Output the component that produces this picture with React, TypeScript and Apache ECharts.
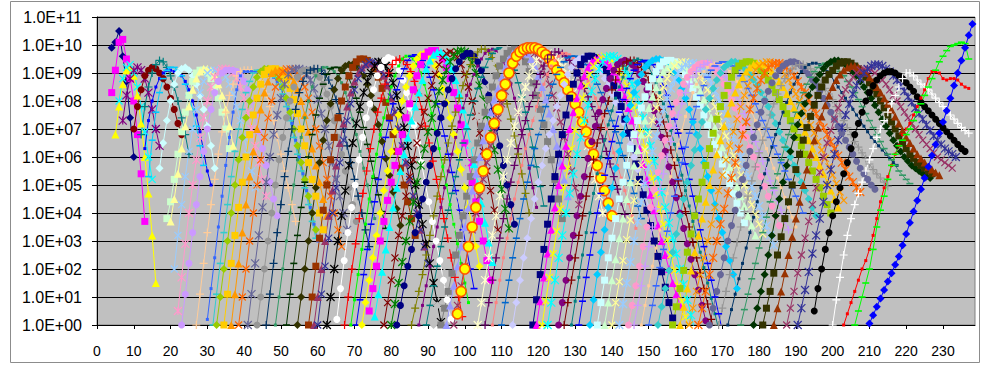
import React, { useEffect, useRef } from "react";
import * as echarts from "echarts";

// x of the first point of every series (points follow at a step of 1)
const SERIES_START_X: number[] = [
  4, 4, 5, 6, 7, 10, 12, 13, 14, 17,
  19, 20, 21, 22, 23, 27, 30, 31.5, 32.5, 34.5,
  36.5, 38.5, 41, 43.5, 46, 48.5, 51.5, 54.5, 57.5, 59,
  60, 62.5, 65.2, 67.3, 69, 70.5, 72, 74, 75.5, 78,
  80, 81.5, 85.5, 87.5, 89.5, 91.5, 93.5, 95, 97, 103.5,
  98, 105.5, 107.5, 110, 113, 118.5, 119.5, 121, 122.5, 125.5,
  127, 129, 131, 134, 136, 138, 140, 142, 144.5, 146,
  148, 150, 152.5, 156.5, 158.5, 161, 163.5, 166.5, 169, 171.5,
  175, 178.5, 181, 184, 187.5, 190.5, 195, 200, 203, 206,
  210,
];

// log10 of every series value
const SERIES_LOG10_Y: number[][] = [
  [9.9, 10.1, 10.5, 9.6, 8.7, 7.4, 6.0],
  [8.3, 9.1, 10.1, 10.2, 9.5, 8.8, 8.0, 6.8, 5.4, 3.7],
  [6.8, 7.8, 8.6, 9.1, 9.2, 8.9, 8.2, 7.2, 6.0, 4.7, 3.2, 1.5],
  [8.0, 8.8, 9.2, 9.3, 9.0, 8.5, 7.8, 6.9, 6.0, 5.2],
  [7.3, 8.2, 8.8, 9.1, 9.2, 9.1, 8.8, 8.3, 7.7, 7.0, 6.4],
  [7.0, 7.8, 8.4, 8.9, 9.1, 9.2, 9.15, 9.0, 8.8, 8.5, 8.1, 7.7, 7.2, 6.8],
  [6.8, 7.8, 8.5, 9.0, 9.3, 9.45, 9.4, 9.2, 8.9, 8.5, 8.0, 7.4, 6.8, 6.1],
  [6.3, 7.3, 8.0, 8.5, 8.8, 9.0, 9.1, 9.1, 9.05, 9.0, 8.9, 8.7, 8.4, 8.0, 7.5, 6.9, 6.2, 5.5, 5.0],
  [5.3, 6.6, 7.6, 8.3, 8.8, 9.1, 9.2, 9.2, 9.1, 8.9, 8.6, 8.2, 7.7, 7.1, 6.4, 5.7],
  [5.6, 6.5, 7.3, 8.0, 8.6, 9.0, 9.15, 9.2, 9.1, 8.9, 8.6, 8.2, 7.7, 7.1, 6.4, 5.6],
  [3.8, 4.4, 5.2, 6.1, 6.9, 7.6, 8.2, 8.7, 9.0, 9.1, 9.1, 9.0, 8.8, 8.5, 8.1, 7.6, 7.0, 6.3],
  [3.7, 4.5, 5.4, 6.3, 7.1, 7.8, 8.4, 8.8, 9.05, 9.15, 9.15, 9.1, 8.9, 8.6, 8.2, 7.7, 7.1, 6.4],
  [2.0, 3.2, 4.3, 5.3, 6.2, 7.0, 7.7, 8.3, 8.7, 9.0, 9.1, 9.1, 9.05, 9.0, 8.85, 8.6, 8.25, 7.8, 7.3, 6.7, 6.1, 5.5, 4.9],
  [0.5, 1.7, 2.9, 4.0, 5.0, 5.9, 6.7, 7.4, 8.0, 8.5, 8.85, 9.05, 9.15, 9.15, 9.1, 9.0, 8.8, 8.5, 8.1, 7.6, 7.0, 6.4, 5.8, 5.2, 4.6],
  [0.0, 1.1, 2.2, 3.3, 4.3, 5.3, 6.2, 7.0, 7.7, 8.3, 8.7, 9.0, 9.1, 9.1, 9.1, 9.05, 8.9, 8.7, 8.4, 8.0, 7.5, 6.9, 6.3, 5.7, 5.1, 4.5, 3.9],
  [0.0, 1.1, 2.2, 3.3, 4.3, 5.2, 6.1, 6.9, 7.6, 8.2, 8.6, 8.9, 9.05, 9.1, 9.1, 9.1, 9.0, 8.85, 8.6, 8.25, 7.8, 7.3, 6.7, 6.1, 5.5, 4.9, 4.3, 3.7],
  [0.2, 1.3, 2.4, 3.5, 4.6, 5.7, 6.7, 7.6, 8.4, 8.9, 9.05, 9.05, 9.05, 9.05, 9.05, 9.05, 9.0, 8.95, 8.85, 8.7, 8.45, 8.1, 7.7, 7.2, 6.6, 6.0, 5.4, 4.8, 4.2, 3.6, 3.0],
  [0.0, 1.1, 2.2, 3.3, 4.3, 5.3, 6.2, 7.0, 7.7, 8.3, 8.7, 9.0, 9.1, 9.1, 9.1, 9.05, 9.0, 8.85, 8.6, 8.25, 7.8, 7.3, 6.7, 6.1, 5.5, 4.9, 4.3, 3.7, 3.1],
  [0.0, 1.0, 2.0, 3.0, 4.0, 5.0, 5.9, 6.7, 7.4, 8.0, 8.5, 8.85, 9.05, 9.15, 9.15, 9.1, 9.0, 8.8, 8.5, 8.1, 7.6, 7.0, 6.4, 5.8, 5.2, 4.6, 4.0, 3.4],
  [0.0, 1.1, 2.2, 3.2, 4.2, 5.1, 6.0, 6.8, 7.5, 8.1, 8.6, 8.95, 9.1, 9.15, 9.15, 9.1, 8.95, 8.75, 8.45, 8.05, 7.55, 7.0, 6.4, 5.8, 5.2, 4.6, 4.0, 3.4],
  [0.0, 1.1, 2.2, 3.3, 4.3, 5.3, 6.2, 7.0, 7.7, 8.3, 8.7, 9.0, 9.1, 9.1, 9.1, 9.05, 8.9, 8.7, 8.4, 8.0, 7.5, 6.9, 6.3, 5.7, 5.1, 4.5, 3.9],
  [0.0, 1.0, 2.0, 3.0, 4.0, 5.0, 5.9, 6.7, 7.4, 8.0, 8.5, 8.85, 9.05, 9.15, 9.15, 9.1, 9.0, 8.8, 8.5, 8.1, 7.6, 7.0, 6.4, 5.8, 5.2, 4.6, 4.0, 3.4, 2.8],
  [0.0, 1.1, 2.2, 3.2, 4.2, 5.1, 6.0, 6.8, 7.5, 8.1, 8.6, 8.95, 9.1, 9.15, 9.15, 9.1, 8.95, 8.75, 8.45, 8.05, 7.55, 7.0, 6.4, 5.8, 5.2, 4.6, 4.0, 3.4],
  [0.0, 1.0, 2.0, 3.0, 4.0, 5.0, 5.9, 6.7, 7.4, 8.0, 8.5, 8.85, 9.05, 9.1, 9.1, 9.1, 9.0, 8.85, 8.6, 8.25, 7.8, 7.3, 6.7, 6.1, 5.5, 4.9, 4.3, 3.7],
  [0.0, 1.1, 2.2, 3.3, 4.3, 5.3, 6.2, 7.0, 7.7, 8.3, 8.7, 9.0, 9.1, 9.15, 9.15, 9.1, 8.95, 8.75, 8.45, 8.05, 7.55, 7.0, 6.4, 5.8, 5.2, 4.6, 4.0, 3.4, 2.8],
  [0.0, 1.0, 2.0, 3.0, 4.0, 5.0, 5.9, 6.7, 7.4, 8.0, 8.5, 8.9, 9.1, 9.2, 9.2, 9.15, 9.05, 8.9, 8.65, 8.3, 7.85, 7.35, 6.8, 6.2, 5.6, 5.0, 4.4, 3.8],
  [0.0, 1.1, 2.2, 3.2, 4.2, 5.1, 6.0, 6.8, 7.5, 8.1, 8.6, 8.95, 9.15, 9.2, 9.2, 9.15, 9.0, 8.8, 8.5, 8.1, 7.6, 7.05, 6.45, 5.85, 5.25, 4.65, 4.05, 3.45],
  [0.0, 1.0, 2.0, 3.0, 4.0, 4.9, 5.8, 6.6, 7.3, 7.9, 8.4, 8.8, 9.1, 9.25, 9.3, 9.3, 9.25, 9.1, 8.9, 8.6, 8.2, 7.7, 7.15, 6.55, 5.95, 5.35, 4.75, 4.15, 3.55],
  [0.0, 1.0, 2.1, 3.1, 4.1, 5.0, 5.9, 6.7, 7.4, 8.0, 8.5, 8.9, 9.2, 9.4, 9.5, 9.5, 9.45, 9.35, 9.15, 8.85, 8.45, 7.95, 7.4, 6.8, 6.2, 5.6, 5.0, 4.4, 3.8, 3.2],
  [0.0, 1.0, 2.0, 3.0, 3.9, 4.8, 5.7, 6.5, 7.2, 7.8, 8.3, 8.7, 9.0, 9.2, 9.3, 9.35, 9.35, 9.3, 9.15, 8.9, 8.55, 8.1, 7.6, 7.0, 6.4, 5.8, 5.2, 4.6, 4.0, 3.4, 2.8],
  [0.0, 1.1, 2.1, 3.1, 4.0, 4.9, 5.8, 6.6, 7.3, 7.9, 8.4, 8.8, 9.1, 9.3, 9.4, 9.4, 9.35, 9.2, 8.95, 8.6, 8.15, 7.6, 7.0, 6.4, 5.8, 5.2, 4.6, 4.0, 3.4, 2.8, 2.2],
  [0.0, 1.0, 2.0, 3.0, 3.9, 4.8, 5.7, 6.5, 7.2, 7.8, 8.3, 8.7, 9.0, 9.25, 9.4, 9.4, 9.25, 9.0, 8.65, 8.2, 7.65, 7.05, 6.4, 5.7, 5.0, 4.3, 3.6, 2.9, 2.2, 1.5, 0.8, 0.1],
  [0.2, 1.3, 2.3, 3.3, 4.2, 5.0, 5.9, 6.7, 7.4, 7.9, 8.4, 8.9, 9.2, 9.45, 9.55, 9.5, 9.35, 9.1, 8.75, 8.3, 7.75, 7.15, 6.5, 5.8, 5.1, 4.4, 3.7, 3.0, 2.3, 1.6, 0.9, 0.2],
  [0.0, 1.0, 2.0, 2.9, 3.8, 4.7, 5.5, 6.3, 7.0, 7.6, 8.1, 8.6, 9.0, 9.3, 9.45, 9.5, 9.45, 9.3, 9.05, 8.7, 8.25, 7.7, 7.1, 6.5, 5.85, 5.2, 4.5, 3.8, 3.1, 2.4, 1.7, 1.0, 0.3],
  [0.0, 0.9, 1.8, 2.7, 3.6, 4.5, 5.3, 6.1, 6.8, 7.4, 8.0, 8.5, 8.9, 9.25, 9.5, 9.6, 9.6, 9.5, 9.3, 9.0, 8.6, 8.1, 7.55, 6.95, 6.3, 5.65, 5.0, 4.3, 3.6, 2.9, 2.2, 1.5, 0.8],
  [0.0, 0.9, 1.8, 2.7, 3.6, 4.4, 5.2, 6.0, 6.7, 7.3, 7.9, 8.4, 8.8, 9.15, 9.45, 9.6, 9.65, 9.6, 9.45, 9.2, 8.85, 8.4, 7.9, 7.35, 6.75, 6.1, 5.45, 4.8, 4.1, 3.4, 2.7, 2.0, 1.3],
  [0.0, 0.8, 1.6, 2.4, 3.2, 4.0, 4.8, 5.5, 6.2, 6.9, 7.5, 8.0, 8.5, 8.9, 9.25, 9.5, 9.65, 9.7, 9.65, 9.5, 9.25, 8.9, 8.45, 7.95, 7.4, 6.8, 6.2, 5.55, 4.9, 4.2, 3.5, 2.8, 2.1],
  [0.5, 1.3, 2.1, 3.0, 3.7, 4.45, 5.1, 5.7, 6.2, 6.8, 7.4, 7.9, 8.4, 8.9, 9.3, 9.6, 9.75, 9.8, 9.8, 9.7, 9.5, 9.2, 8.8, 8.3, 7.75, 7.15, 6.5, 5.8, 5.1, 4.4, 3.7, 3.0, 2.3, 1.6],
  [0.3, 1.1, 1.9, 2.7, 3.5, 4.2, 4.9, 5.5, 6.1, 6.7, 7.3, 7.8, 8.3, 8.75, 9.15, 9.45, 9.65, 9.75, 9.75, 9.65, 9.45, 9.15, 8.75, 8.25, 7.7, 7.1, 6.45, 5.75, 5.05, 4.35, 3.65, 2.95, 2.25],
  [0.0, 0.8, 1.6, 2.4, 3.2, 3.9, 4.6, 5.3, 5.9, 6.5, 7.1, 7.6, 8.1, 8.55, 8.95, 9.3, 9.55, 9.7, 9.75, 9.7, 9.55, 9.3, 8.95, 8.5, 8.0, 7.45, 6.85, 6.2, 5.5, 4.8, 4.1, 3.4],
  [0.0, 0.75, 1.5, 2.25, 3.0, 3.7, 4.4, 5.1, 5.7, 6.3, 6.9, 7.4, 7.9, 8.35, 8.75, 9.1, 9.4, 9.6, 9.75, 9.8, 9.75, 9.6, 9.35, 9.0, 8.55, 8.05, 7.5, 6.9, 6.25, 5.55, 4.85, 4.15, 3.45],
  [0.0, 0.7, 1.4, 2.1, 2.7, 3.3, 3.9, 4.5, 5.1, 5.7, 6.3, 6.85, 7.4, 7.9, 8.4, 8.8, 9.15, 9.4, 9.6, 9.7, 9.7, 9.6, 9.4, 9.1, 8.7, 8.2, 7.65, 7.05, 6.4, 5.7, 5.0, 4.3, 3.6],
  [0.0, 0.6, 1.2, 1.8, 2.5, 3.2, 3.9, 4.6, 5.3, 5.9, 6.5, 7.1, 7.6, 8.1, 8.55, 8.95, 9.3, 9.55, 9.75, 9.85, 9.85, 9.75, 9.55, 9.25, 8.85, 8.4, 7.9, 7.35, 6.75, 6.1, 5.4, 4.7, 4.0],
  [0.0, 0.7, 1.4, 2.1, 2.8, 3.5, 4.2, 4.9, 5.5, 6.1, 6.7, 7.25, 7.75, 8.2, 8.6, 8.95, 9.25, 9.5, 9.7, 9.8, 9.85, 9.8, 9.65, 9.4, 9.05, 8.6, 8.1, 7.55, 6.95, 6.3, 5.6, 4.9, 4.2],
  [0.0, 0.7, 1.4, 2.1, 2.8, 3.5, 4.1, 4.7, 5.3, 5.9, 6.5, 7.0, 7.5, 8.0, 8.45, 8.85, 9.2, 9.5, 9.7, 9.85, 9.9, 9.85, 9.7, 9.45, 9.1, 8.65, 8.15, 7.6, 7.0, 6.35, 5.65, 4.95, 4.25],
  [0.0, 0.7, 1.4, 2.1, 2.8, 3.4, 4.0, 4.6, 5.2, 5.8, 6.4, 6.95, 7.45, 7.95, 8.4, 8.8, 9.15, 9.45, 9.65, 9.8, 9.85, 9.8, 9.65, 9.4, 9.05, 8.6, 8.1, 7.55, 6.95, 6.3, 5.6, 4.9],
  [0.0, 0.6, 1.2, 1.85, 2.5, 3.2, 3.9, 4.6, 5.3, 5.9, 6.5, 7.1, 7.6, 8.05, 8.5, 8.9, 9.25, 9.5, 9.7, 9.8, 9.85, 9.8, 9.65, 9.4, 9.05, 8.65, 8.2, 7.7, 7.15, 6.55, 5.9, 5.2, 4.5, 3.8],
  [0.0, 0.7, 1.4, 2.1, 2.8, 3.5, 4.2, 4.8, 5.4, 6.0, 6.6, 7.1, 7.6, 8.05, 8.45, 8.85, 9.2, 9.5, 9.7, 9.8, 9.85, 9.8, 9.7, 9.5, 9.25, 8.9, 8.5, 8.05, 7.55, 7.0, 6.4, 5.8, 5.2, 4.6],
  [0.0, 0.7, 1.4, 2.1, 2.8, 3.4, 4.0, 4.6, 5.2, 5.8, 6.4, 6.9, 7.4, 7.9, 8.35, 8.75, 9.1, 9.4, 9.6, 9.75, 9.8, 9.8, 9.7, 9.5, 9.25, 8.95, 8.6, 8.2, 7.75, 7.25, 6.7, 6.1, 5.5, 4.9, 4.3],
  [0.0, 0.8, 1.6, 2.4, 3.2, 3.9, 4.6, 5.3, 5.9, 6.5, 7.1, 7.6, 8.1, 8.5, 8.9, 9.2, 9.45, 9.6, 9.7, 9.7, 9.65, 9.55, 9.4, 9.2, 8.95, 8.65, 8.3, 7.9, 7.45, 6.95, 6.4, 5.8, 5.2, 4.6, 4.0],
  [0.4, 1.2, 2.0, 2.8, 3.5, 4.2, 4.9, 5.5, 6.1, 6.7, 7.2, 7.7, 8.2, 8.6, 9.0, 9.35, 9.6, 9.75, 9.85, 9.9, 9.9, 9.9, 9.85, 9.75, 9.65, 9.5, 9.3, 9.1, 8.9, 8.65, 8.4, 8.15, 7.9, 7.6, 7.25, 6.9, 6.5, 6.1, 5.7, 5.25, 4.8, 4.35, 3.9],
  [0.0, 0.8, 1.6, 2.4, 3.1, 3.8, 4.5, 5.1, 5.7, 6.3, 6.8, 7.3, 7.8, 8.2, 8.6, 8.95, 9.25, 9.5, 9.65, 9.75, 9.75, 9.7, 9.6, 9.45, 9.25, 9.0, 8.75, 8.45, 8.15, 7.8, 7.45, 7.05, 6.65, 6.2, 5.75, 5.3, 4.85, 4.4, 3.95],
  [0.0, 0.8, 1.6, 2.4, 3.1, 3.8, 4.5, 5.1, 5.7, 6.3, 6.8, 7.3, 7.8, 8.2, 8.6, 8.95, 9.25, 9.45, 9.6, 9.7, 9.7, 9.65, 9.55, 9.4, 9.2, 8.95, 8.7, 8.4, 8.1, 7.75, 7.4, 7.0, 6.6, 6.15, 5.7, 5.25, 4.8, 4.35, 3.9, 3.45],
  [0.0, 0.8, 1.6, 2.4, 3.1, 3.8, 4.5, 5.1, 5.7, 6.3, 6.8, 7.3, 7.8, 8.2, 8.6, 8.95, 9.2, 9.4, 9.55, 9.6, 9.6, 9.55, 9.45, 9.3, 9.1, 8.85, 8.6, 8.3, 8.0, 7.65, 7.3, 6.9, 6.5, 6.05, 5.6, 5.15, 4.7, 4.25, 3.8],
  [0.0, 0.8, 1.6, 2.4, 3.1, 3.8, 4.5, 5.1, 5.7, 6.3, 6.8, 7.3, 7.8, 8.2, 8.6, 8.95, 9.2, 9.4, 9.5, 9.55, 9.55, 9.5, 9.4, 9.25, 9.05, 8.8, 8.55, 8.25, 7.95, 7.6, 7.25, 6.85, 6.45, 6.0, 5.55, 5.1, 4.65, 4.2],
  [0.0, 0.9, 1.8, 2.7, 3.6, 4.5, 5.3, 6.1, 6.8, 7.5, 8.1, 8.6, 9.0, 9.3, 9.5, 9.6, 9.6, 9.55, 9.45, 9.3, 9.1, 8.85, 8.55, 8.2, 7.8, 7.35, 6.85, 6.3, 5.75, 5.2, 4.65, 4.1, 3.55, 3.0, 2.45, 1.9, 1.35, 0.8, 0.25, -0.3],
  [0.0, 0.85, 1.7, 2.55, 3.4, 4.2, 5.0, 5.7, 6.4, 7.0, 7.6, 8.1, 8.55, 8.9, 9.2, 9.4, 9.5, 9.55, 9.5, 9.4, 9.25, 9.05, 8.8, 8.5, 8.15, 7.75, 7.3, 6.8, 6.3, 5.75, 5.2, 4.65, 4.1, 3.55, 3.0, 2.5, 2.0, 1.5, 1.1, 0.7],
  [0.0, 0.85, 1.7, 2.55, 3.35, 4.15, 4.9, 5.6, 6.3, 6.95, 7.55, 8.1, 8.55, 8.95, 9.25, 9.45, 9.55, 9.6, 9.55, 9.45, 9.3, 9.1, 8.85, 8.55, 8.2, 7.8, 7.35, 6.85, 6.35, 5.8, 5.25, 4.7, 4.15, 3.6, 3.05, 2.5, 1.95, 1.4, 0.85, 0.3, -0.25],
  [0.0, 0.8, 1.6, 2.4, 3.2, 4.0, 4.7, 5.4, 6.1, 6.7, 7.3, 7.85, 8.35, 8.8, 9.15, 9.4, 9.55, 9.6, 9.6, 9.5, 9.35, 9.15, 8.9, 8.6, 8.25, 7.85, 7.4, 6.9, 6.4, 5.85, 5.3, 4.75, 4.2, 3.65, 3.1, 2.55, 2.0, 1.45, 0.9, 0.35, -0.2],
  [0.0, 0.8, 1.6, 2.4, 3.2, 3.9, 4.6, 5.3, 5.95, 6.55, 7.1, 7.6, 8.05, 8.45, 8.8, 9.1, 9.3, 9.4, 9.45, 9.4, 9.3, 9.15, 8.95, 8.7, 8.4, 8.05, 7.65, 7.2, 6.7, 6.2, 5.65, 5.1, 4.55, 4.0, 3.45, 2.9, 2.35, 1.8, 1.25, 0.7, 0.15, -0.4],
  [0.0, 0.8, 1.6, 2.4, 3.2, 3.9, 4.6, 5.3, 5.9, 6.5, 7.05, 7.55, 8.0, 8.4, 8.75, 9.05, 9.25, 9.4, 9.45, 9.45, 9.35, 9.2, 9.0, 8.75, 8.45, 8.1, 7.7, 7.25, 6.75, 6.25, 5.7, 5.15, 4.6, 4.05, 3.5, 2.95, 2.4, 1.85, 1.3, 0.75, 0.2, -0.35],
  [0.0, 0.85, 1.7, 2.5, 3.3, 4.0, 4.7, 5.4, 6.0, 6.6, 7.15, 7.65, 8.1, 8.5, 8.85, 9.15, 9.35, 9.45, 9.5, 9.45, 9.35, 9.2, 8.95, 8.65, 8.3, 7.9, 7.45, 6.95, 6.45, 5.9, 5.35, 4.8, 4.25, 3.7, 3.15, 2.6, 2.05, 1.5, 0.95, 0.4, -0.15],
  [0.0, 0.85, 1.7, 2.5, 3.3, 4.0, 4.7, 5.35, 5.95, 6.55, 7.1, 7.6, 8.05, 8.45, 8.8, 9.1, 9.3, 9.4, 9.45, 9.4, 9.3, 9.1, 8.85, 8.55, 8.2, 7.8, 7.35, 6.85, 6.3, 5.75, 5.2, 4.6, 4.0, 3.4, 2.8, 2.2, 1.6, 1.0, 0.4, -0.2, -0.8],
  [0.0, 0.9, 1.8, 2.6, 3.4, 4.2, 4.9, 5.6, 6.2, 6.8, 7.35, 7.85, 8.3, 8.65, 8.95, 9.2, 9.35, 9.45, 9.5, 9.5, 9.45, 9.35, 9.2, 9.0, 8.75, 8.45, 8.1, 7.7, 7.25, 6.8, 6.3, 5.8, 5.3, 4.8, 4.3, 3.8, 3.3, 2.8, 2.3, 1.8, 1.3],
  [0.0, 0.8, 1.6, 2.4, 3.1, 3.8, 4.5, 5.1, 5.7, 6.3, 6.8, 7.3, 7.75, 8.15, 8.5, 8.8, 9.05, 9.25, 9.4, 9.45, 9.45, 9.4, 9.3, 9.15, 8.95, 8.7, 8.45, 8.15, 7.85, 7.5, 7.15, 6.8, 6.45, 6.1, 5.75, 5.4, 5.05, 4.7, 4.35, 4.0, 3.65],
  [0.0, 0.8, 1.6, 2.35, 3.1, 3.8, 4.5, 5.1, 5.7, 6.25, 6.8, 7.3, 7.75, 8.15, 8.5, 8.8, 9.05, 9.2, 9.3, 9.35, 9.35, 9.3, 9.2, 9.05, 8.85, 8.6, 8.35, 8.05, 7.75, 7.4, 7.05, 6.7, 6.35, 6.0, 5.65, 5.3, 4.95, 4.6, 4.25, 3.9, 3.55, 3.2],
  [0.0, 0.8, 1.55, 2.3, 3.05, 3.75, 4.45, 5.1, 5.7, 6.25, 6.8, 7.3, 7.75, 8.15, 8.5, 8.8, 9.05, 9.25, 9.35, 9.4, 9.4, 9.35, 9.25, 9.1, 8.9, 8.65, 8.4, 8.1, 7.8, 7.45, 7.1, 6.75, 6.4, 6.05, 5.7, 5.35, 5.0, 4.65, 4.3, 3.95, 3.6, 3.25],
  [0.0, 0.75, 1.5, 2.25, 3.0, 3.7, 4.4, 5.05, 5.65, 6.2, 6.75, 7.25, 7.7, 8.1, 8.45, 8.75, 9.0, 9.2, 9.3, 9.35, 9.35, 9.3, 9.2, 9.05, 8.85, 8.6, 8.35, 8.05, 7.75, 7.4, 7.05, 6.7, 6.35, 6.0, 5.65, 5.3, 4.95, 4.6, 4.25, 3.9, 3.55, 3.2, 2.85],
  [0.0, 0.7, 1.4, 2.1, 2.8, 3.5, 4.2, 4.85, 5.45, 6.05, 6.6, 7.1, 7.55, 7.95, 8.3, 8.6, 8.85, 9.05, 9.2, 9.3, 9.35, 9.35, 9.3, 9.2, 9.05, 8.85, 8.6, 8.35, 8.05, 7.75, 7.4, 7.05, 6.7, 6.35, 6.0, 5.65, 5.3, 4.95, 4.6, 4.25, 3.9, 3.55],
  [0.0, 0.7, 1.4, 2.1, 2.8, 3.5, 4.15, 4.8, 5.4, 6.0, 6.55, 7.05, 7.5, 7.9, 8.3, 8.6, 8.85, 9.05, 9.2, 9.3, 9.35, 9.35, 9.3, 9.2, 9.05, 8.85, 8.65, 8.4, 8.15, 7.85, 7.55, 7.25, 6.9, 6.55, 6.2, 5.85, 5.5, 5.15, 4.8, 4.45, 4.1, 3.75, 3.4],
  [0.0, 0.7, 1.4, 2.1, 2.75, 3.4, 4.05, 4.7, 5.3, 5.9, 6.45, 6.95, 7.45, 7.9, 8.3, 8.6, 8.85, 9.05, 9.2, 9.3, 9.35, 9.35, 9.3, 9.2, 9.05, 8.9, 8.7, 8.45, 8.2, 7.9, 7.6, 7.3, 7.0, 6.65, 6.3, 5.95, 5.6, 5.25, 4.9, 4.55, 4.2, 3.85, 3.5],
  [0.0, 0.7, 1.4, 2.05, 2.7, 3.35, 4.0, 4.6, 5.2, 5.8, 6.35, 6.85, 7.35, 7.8, 8.2, 8.55, 8.85, 9.1, 9.25, 9.35, 9.4, 9.4, 9.35, 9.25, 9.1, 8.9, 8.7, 8.45, 8.2, 7.9, 7.6, 7.3, 7.0, 6.7, 6.4, 6.1, 5.8, 5.5, 5.2, 4.9, 4.6, 4.3, 4.0],
  [0.0, 0.65, 1.3, 1.95, 2.6, 3.25, 3.9, 4.5, 5.1, 5.7, 6.25, 6.75, 7.25, 7.7, 8.1, 8.45, 8.75, 9.0, 9.2, 9.3, 9.4, 9.4, 9.35, 9.25, 9.1, 8.95, 8.75, 8.55, 8.3, 8.05, 7.8, 7.5, 7.2, 6.9, 6.6, 6.3, 6.0, 5.7, 5.4, 5.1, 4.8, 4.5, 4.2, 3.9],
  [0.0, 0.65, 1.3, 1.95, 2.6, 3.25, 3.9, 4.5, 5.1, 5.7, 6.3, 6.85, 7.35, 7.8, 8.2, 8.55, 8.85, 9.1, 9.25, 9.35, 9.4, 9.4, 9.35, 9.25, 9.1, 8.95, 8.75, 8.55, 8.3, 8.05, 7.8, 7.55, 7.3, 7.0, 6.7, 6.4, 6.1, 5.8, 5.5, 5.2, 4.9, 4.6, 4.3, 4.0],
  [0.0, 0.65, 1.3, 1.95, 2.6, 3.2, 3.8, 4.4, 5.0, 5.55, 6.1, 6.6, 7.1, 7.55, 7.95, 8.3, 8.6, 8.85, 9.05, 9.2, 9.3, 9.35, 9.35, 9.3, 9.2, 9.05, 8.9, 8.7, 8.5, 8.25, 8.0, 7.75, 7.5, 7.2, 6.9, 6.6, 6.3, 6.0, 5.7, 5.4, 5.1, 4.8, 4.5, 4.2],
  [0.0, 0.6, 1.2, 1.8, 2.4, 3.0, 3.6, 4.2, 4.8, 5.35, 5.9, 6.4, 6.9, 7.35, 7.8, 8.2, 8.55, 8.85, 9.1, 9.25, 9.35, 9.4, 9.4, 9.35, 9.25, 9.1, 8.95, 8.75, 8.5, 8.25, 8.0, 7.75, 7.45, 7.15, 6.85, 6.55, 6.25, 5.95, 5.65, 5.35, 5.05, 4.75, 4.45],
  [0.0, 0.6, 1.2, 1.8, 2.4, 3.0, 3.6, 4.15, 4.7, 5.25, 5.8, 6.3, 6.8, 7.25, 7.7, 8.1, 8.45, 8.75, 9.0, 9.2, 9.3, 9.35, 9.35, 9.3, 9.2, 9.05, 8.9, 8.7, 8.5, 8.3, 8.05, 7.8, 7.55, 7.3, 7.05, 6.8, 6.55, 6.3, 6.05, 5.8, 5.55, 5.3, 5.1, 4.9, 4.75],
  [0.0, 0.6, 1.2, 1.8, 2.4, 3.0, 3.55, 4.1, 4.65, 5.2, 5.7, 6.2, 6.7, 7.15, 7.6, 8.0, 8.35, 8.65, 8.9, 9.1, 9.25, 9.35, 9.4, 9.4, 9.35, 9.25, 9.1, 8.95, 8.75, 8.55, 8.35, 8.1, 7.85, 7.6, 7.35, 7.1, 6.85, 6.6, 6.35, 6.1, 5.85, 5.6, 5.4, 5.2, 5.0, 4.85],
  [0.0, 0.6, 1.2, 1.8, 2.4, 2.95, 3.5, 4.05, 4.6, 5.15, 5.65, 6.15, 6.6, 7.05, 7.5, 7.9, 8.25, 8.55, 8.8, 9.0, 9.15, 9.25, 9.3, 9.3, 9.25, 9.15, 9.0, 8.85, 8.65, 8.45, 8.25, 8.05, 7.8, 7.55, 7.3, 7.05, 6.8, 6.55, 6.35, 6.15, 5.95, 5.75, 5.55, 5.4, 5.25, 5.1, 4.95],
  [0.0, 0.55, 1.1, 1.65, 2.2, 2.75, 3.3, 3.85, 4.4, 4.9, 5.4, 5.9, 6.35, 6.8, 7.2, 7.6, 7.95, 8.3, 8.6, 8.85, 9.05, 9.2, 9.3, 9.35, 9.35, 9.3, 9.2, 9.05, 8.9, 8.7, 8.5, 8.3, 8.1, 7.9, 7.7, 7.5, 7.3, 7.1, 6.9, 6.7, 6.55, 6.4, 6.25, 6.1, 5.95, 5.8, 5.7],
  [0.0, 0.55, 1.1, 1.65, 2.2, 2.75, 3.3, 3.85, 4.4, 4.9, 5.4, 5.9, 6.35, 6.8, 7.2, 7.6, 7.95, 8.3, 8.6, 8.85, 9.05, 9.2, 9.3, 9.35, 9.35, 9.3, 9.2, 9.05, 8.9, 8.7, 8.5, 8.3, 8.05, 7.8, 7.55, 7.3, 7.05, 6.8, 6.55, 6.3, 6.1, 5.9, 5.7, 5.5, 5.35, 5.2, 5.05],
  [0.0, 0.6, 1.2, 1.8, 2.5, 3.2, 3.9, 4.5, 5.1, 5.7, 6.2, 6.7, 7.15, 7.55, 7.9, 8.2, 8.5, 8.75, 8.95, 9.15, 9.3, 9.4, 9.45, 9.45, 9.4, 9.3, 9.2, 9.05, 8.9, 8.7, 8.5, 8.3, 8.1, 7.85, 7.6, 7.35, 7.1, 6.85, 6.6, 6.4, 6.2, 6.0, 5.85, 5.7, 5.6, 5.5, 5.4, 5.3, 5.25],
  [0.0, 0.6, 1.2, 1.85, 2.5, 3.15, 3.8, 4.4, 5.0, 5.55, 6.1, 6.6, 7.05, 7.45, 7.85, 8.2, 8.5, 8.75, 8.95, 9.1, 9.25, 9.35, 9.4, 9.4, 9.35, 9.25, 9.15, 9.0, 8.85, 8.65, 8.45, 8.25, 8.0, 7.75, 7.5, 7.25, 7.0, 6.75, 6.5, 6.3, 6.1, 5.95, 5.8, 5.7, 5.6, 5.5, 5.4],
  [0.0, 0.6, 1.2, 1.85, 2.5, 3.15, 3.8, 4.4, 5.0, 5.55, 6.1, 6.6, 7.05, 7.45, 7.85, 8.2, 8.5, 8.75, 8.95, 9.1, 9.2, 9.25, 9.25, 9.2, 9.1, 9.0, 8.85, 8.7, 8.5, 8.3, 8.1, 7.9, 7.7, 7.45, 7.2, 6.95, 6.7, 6.5, 6.3, 6.1, 5.95, 5.8, 5.65, 5.55, 5.45, 5.35],
  [0.0, 0.6, 1.2, 1.85, 2.5, 3.1, 3.7, 4.3, 4.9, 5.45, 6.0, 6.5, 6.95, 7.35, 7.75, 8.1, 8.4, 8.65, 8.85, 9.0, 9.1, 9.15, 9.15, 9.1, 9.0, 8.9, 8.75, 8.6, 8.4, 8.2, 8.0, 7.8, 7.6, 7.4, 7.2, 7.0, 6.8, 6.6, 6.45, 6.3, 6.15, 6.0, 5.9, 5.8, 5.7, 5.6],
  [0.0, 0.6, 1.25, 1.9, 2.55, 3.2, 3.8, 4.4, 5.0, 5.55, 6.1, 6.6, 7.05, 7.5, 7.9, 8.25, 8.55, 8.8, 9.0, 9.15, 9.25, 9.3, 9.3, 9.25, 9.15, 9.05, 8.9, 8.75, 8.55, 8.35, 8.15, 7.95, 7.75, 7.55, 7.35, 7.15, 6.95, 6.75, 6.6, 6.45, 6.3, 6.2, 6.1, 6.0],
  [0.5, 1.3, 2.0, 2.7, 3.3, 3.9, 4.4, 4.9, 5.4, 5.8, 6.3, 6.8, 7.2, 7.6, 8.0, 8.3, 8.55, 8.75, 8.9, 9.0, 9.05, 9.05, 9.0, 8.9, 8.8, 8.65, 8.5, 8.35, 8.15, 7.95, 7.8, 7.65, 7.5, 7.35, 7.2, 7.05, 6.9, 6.75, 6.6, 6.45, 6.3, 6.2],
  [0.0, 0.9, 1.7, 2.5, 3.2, 3.8, 4.3, 4.7, 5.1, 5.5, 5.9, 6.3, 6.7, 7.0, 7.3, 7.6, 7.9, 8.2, 8.5, 8.8, 9.0, 9.0, 8.9, 8.75, 8.6, 8.5, 8.4, 8.25, 8.1, 7.95, 7.8, 7.65, 7.5, 7.35, 7.2, 7.05, 6.95, 6.85],
  [0.0, 0.4, 0.8, 1.2, 1.6, 2.0, 2.3, 2.7, 3.2, 3.8, 4.4, 4.9, 5.3, 5.7, 6.1, 6.4, 6.8, 7.0, 7.2, 7.5, 7.8, 8.1, 8.4, 8.8, 9.05, 9.05, 9.0, 8.8, 8.75, 8.8, 8.8, 8.75, 8.6, 8.5, 8.45],
  [0.0, 0.5, 1.0, 1.5, 2.0, 2.7, 3.5, 4.1, 4.6, 5.2, 5.7, 6.1, 6.4, 6.6, 6.8, 7.0, 7.3, 7.6, 7.9, 8.2, 8.5, 8.8, 9.1, 9.4, 9.6, 9.8, 9.95, 10.0, 10.05, 10.1, 10.05, 9.5],
  [0.05, 0.35, 0.65, 0.95, 1.25, 1.55, 1.85, 2.15, 2.45, 2.85, 3.25, 3.65, 4.05, 4.45, 4.85, 5.25, 5.65, 6.05, 6.45, 6.85, 7.25, 7.65, 8.1, 8.55, 9.0, 9.45, 9.9, 10.35, 10.75],
];

const SERIES_COLORS: string[] = [
  "#000080", "#FF00FF", "#FFFF00", "#00FFFF", "#800080", "#800000", "#008080", "#0000FF", "#00CCFF", "#CCFFFF",
  "#CCFFCC", "#FFFF99", "#99CCFF", "#FF99CC", "#CC99FF", "#FFCC99", "#3366FF", "#33CCCC", "#99CC00", "#FFCC00",
  "#FF9900", "#FF6600", "#666699", "#969696", "#003366", "#339966", "#003300", "#333300", "#993300", "#993366",
  "#333399", "#000000", "#FFFFFF", "#FF0000", "#00FF00", "#0000FF", "#FFFF00", "#FF00FF", "#00FFFF", "#800000",
  "#008000", "#000080", "#808000", "#800080", "#008080", "#C0C0C0", "#808080", "#9999FF", "#993366", "#FFFFCC",
  "#FFFF00", "#660066", "#FF8080", "#0066CC", "#CCCCFF", "#000080", "#FF00FF", "#FFFF00", "#00FFFF", "#800080",
  "#800000", "#008080", "#0000FF", "#00CCFF", "#CCFFFF", "#CCFFCC", "#FFFF99", "#99CCFF", "#FF99CC", "#CC99FF",
  "#FFCC99", "#3366FF", "#33CCCC", "#99CC00", "#FFCC00", "#FF9900", "#FF6600", "#666699", "#969696", "#003366",
  "#339966", "#003300", "#333300", "#993300", "#993366", "#333399", "#000000", "#FFFFFF", "#FF0000", "#00FF00",
  "#0000FF",
];

const MARKER_CYCLE = ["diamond", "square", "triangle", "x", "star", "circle", "plus", "dot", "dash"];
const HIGHLIGHT_SERIES = 50;

function marker(kind: string): { symbol: string; size: number | number[]; stroke: boolean } {
  switch (kind) {
    case "diamond": return { symbol: "diamond", size: 8, stroke: false };
    case "square": return { symbol: "rect", size: 7, stroke: false };
    case "triangle": return { symbol: "triangle", size: 8, stroke: false };
    case "x": return { symbol: "path://M0,0L10,10M10,0L0,10", size: 7, stroke: true };
    case "star": return { symbol: "path://M5,0L5,10M0,0L10,10M10,0L0,10", size: 8, stroke: true };
    case "circle": return { symbol: "circle", size: 7, stroke: false };
    case "plus": return { symbol: "path://M5,0L5,10M0,5L10,5", size: 8, stroke: true };
    case "dot": return { symbol: "rect", size: [3, 3], stroke: false };
    default: return { symbol: "rect", size: [7, 1.6], stroke: false };
  }
}

const FONT = "'Liberation Sans', Arial, sans-serif";

export default function App() {
  const ref = useRef<HTMLDivElement>(null);

  useEffect(() => {
    if (!ref.current) return;
    const chart = echarts.init(ref.current, null, { renderer: "svg" });

    const series = SERIES_LOG10_Y.map((ys, k) => {
      const color = SERIES_COLORS[k];
      const m = marker(MARKER_CYCLE[k % 9]);
      const data = ys.map((e, i) => [SERIES_START_X[k] + i, e]);
      const highlight = k === HIGHLIGHT_SERIES;
      return {
        type: "line",
        name: "Series " + (k + 1),
        data,
        symbol: highlight ? "circle" : m.symbol,
        symbolSize: highlight ? 10 : m.size,
        showAllSymbol: true,
        clip: true,
        silent: true,
        emphasis: { disabled: true },
        lineStyle: { color: highlight ? "#FF5500" : color, width: 1 },
        itemStyle: highlight
          ? { color: "#FFFF00", borderColor: "#FF5500", borderWidth: 1.6 }
          : { color, borderColor: color, borderWidth: m.stroke ? 1.2 : 0 },
      };
    });

    chart.setOption({
      animation: false,
      backgroundColor: "#FFFFFF",
      textStyle: { fontFamily: FONT },
      grid: {
        left: 97,
        right: 7,
        top: 17,
        bottom: 42,
        show: true,
        backgroundColor: "#C0C0C0",
        borderColor: "#808080",
        borderWidth: 1,
        containLabel: false,
        outerBoundsMode: "none",
      },
      xAxis: {
        type: "value",
        min: 0,
        max: 238.7,
        interval: 10,
        axisLine: { show: true, onZero: false, lineStyle: { color: "#000000", width: 1 } },
        axisTick: { show: true, inside: false, length: 4, lineStyle: { color: "#000000" } },
        axisLabel: {
          color: "#000000",
          fontSize: 14,
          fontFamily: FONT,
          margin: 19,
          showMaxLabel: false,
          formatter: (v: number) => (Math.abs(v % 10) < 1e-9 ? String(v) : ""),
        },
        splitLine: { show: false },
      },
      yAxis: {
        type: "value",
        min: 0,
        max: 11,
        interval: 1,
        axisLine: { show: true, onZero: false, lineStyle: { color: "#000000", width: 1 } },
        axisTick: { show: true, inside: false, length: 5, lineStyle: { color: "#000000" } },
        axisLabel: {
          color: "#000000",
          fontSize: 16,
          fontFamily: FONT,
          margin: 15,
          formatter: (v: number) => "1.0E+" + (v < 10 ? "0" + v : String(v)),
        },
        splitLine: { show: true, lineStyle: { color: "#000000", width: 1 } },
      },
      graphic: [
        {
          type: "rect",
          shape: { x: 10.5, y: 1.5, width: 969, height: 361 },
          style: { fill: "none", stroke: "#8C8C8C", lineWidth: 1 },
          silent: true,
          z: 100,
        },
      ],
      series,
    });

    return () => chart.dispose();
  }, []);

  return (
    <div
      ref={ref}
      style={{ position: "fixed", left: 0, top: 0, width: 982, height: 367, background: "#FFFFFF" }}
    />
  );
}
